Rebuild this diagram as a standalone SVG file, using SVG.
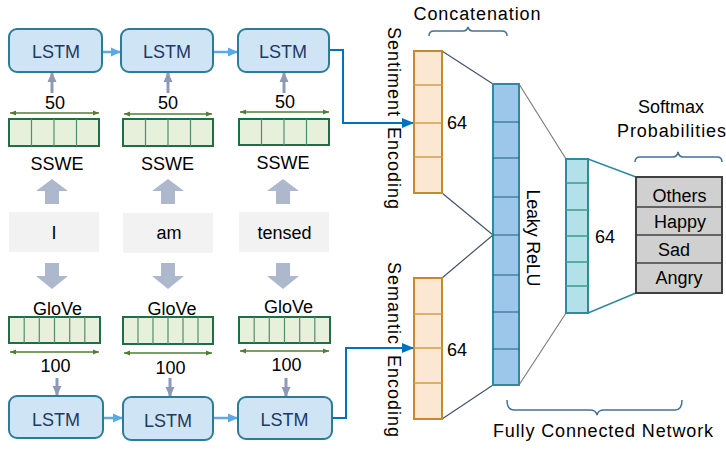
<svg xmlns="http://www.w3.org/2000/svg" width="726" height="454" viewBox="0 0 726 454">
<defs>
<marker id="ahBlueL" markerUnits="userSpaceOnUse" markerWidth="10" markerHeight="10" refX="10" refY="5" orient="auto"><path d="M0,0.5 L10,5 L0,9.5 Z" fill="#5aaae6"/></marker>
<marker id="ahBlue" markerUnits="userSpaceOnUse" markerWidth="12" markerHeight="12" refX="12" refY="6" orient="auto"><path d="M0,1 L12,6 L0,11 Z" fill="#0070c0"/></marker>
<marker id="ahGray" markerUnits="userSpaceOnUse" markerWidth="10" markerHeight="10" refX="10" refY="5" orient="auto"><path d="M0,0.5 L10,5 L0,9.5 Z" fill="#8e9ab5"/></marker>
<marker id="ahGreen" markerUnits="userSpaceOnUse" markerWidth="6" markerHeight="6" refX="6" refY="3" orient="auto-start-reverse"><path d="M0,0.5 L6,3 L0,5.5 Z" fill="#4f7f2f"/></marker>
<style>
text{font-family:"Liberation Sans",Arial,sans-serif;font-size:18px;fill:#000;text-anchor:middle}
.vt{text-anchor:start;letter-spacing:1px;word-spacing:4px}
.lstm rect{fill:#cfe5f5;stroke:#2c7c98;stroke-width:2}
.lstm text{fill:#1f3864}
.emb rect{fill:#e6f0da;stroke:#1e6e48;stroke-width:2}
.emb path{stroke:#4f8f70;stroke-width:1.2;fill:none}
.word rect{fill:#f2f2f2}
.big{fill:#aeb8cc}
.small{stroke:#8e9ab5;stroke-width:3;fill:none}
.dim{stroke:#4f7f2f;stroke-width:1.5;fill:none}
.chain{stroke:#5aaae6;stroke-width:2.5;fill:none}
.conn{stroke:#0070c0;stroke-width:2;fill:none}
.enc rect{fill:#fce8d2;stroke:#c58a2e;stroke-width:2}
.enc path{stroke:#d49a4a;stroke-width:1.5;fill:none}
.leaky rect{fill:#9dc7ea;stroke:#2f8aa0;stroke-width:2}
.leaky path{stroke:#1f5f80;stroke-width:1.2;fill:none}
.fc rect{fill:#b4e0ea;stroke:#2f8aa0;stroke-width:2}
.fc path{stroke:#3e9a8a;stroke-width:1.5;fill:none}
.soft rect{fill:#d0d0d0;stroke:#404040;stroke-width:2}
.soft path{stroke:#404040;stroke-width:1.5;fill:none}
.brace{stroke:#41719c;stroke-width:1.5;fill:none}
.fan{stroke:#44546a;stroke-width:1.2;fill:none}
.fan2{stroke:#7f7f7f;stroke-width:1.2;fill:none}
.fan3{stroke:#2f8aa0;stroke-width:1.5;fill:none}
</style>
</defs>

<!-- connectors -->
<g id="connectors">
<line class="chain" x1="102" y1="52" x2="121" y2="52" marker-end="url(#ahBlueL)"/>
<line class="chain" x1="213" y1="52" x2="238" y2="52" marker-end="url(#ahBlueL)"/>
<line class="chain" x1="103" y1="418" x2="123" y2="418" marker-end="url(#ahBlueL)"/>
<line class="chain" x1="213" y1="418" x2="238" y2="418" marker-end="url(#ahBlueL)"/>
<path class="conn" d="M329,50 H343 V123 H414" marker-end="url(#ahBlue)"/>
<path class="conn" d="M332,418 H346 V348 H414" marker-end="url(#ahBlue)"/>
<!-- small arrows -->
<line class="small" x1="52" y1="93" x2="52" y2="72" marker-end="url(#ahGray)"/>
<line class="small" x1="168" y1="93" x2="168" y2="72" marker-end="url(#ahGray)"/>
<line class="small" x1="284" y1="93" x2="284" y2="72" marker-end="url(#ahGray)"/>
<line class="small" x1="57" y1="378" x2="57" y2="396" marker-end="url(#ahGray)"/>
<line class="small" x1="170" y1="378" x2="170" y2="397" marker-end="url(#ahGray)"/>
<line class="small" x1="286" y1="378" x2="286" y2="397" marker-end="url(#ahGray)"/>
<!-- big arrows -->
<polygon class="big" points="52,179 68,191 59,191 59,204 45,204 45,191 36,191"/>
<polygon class="big" points="168,179 184,191 175,191 175,204 161,204 161,191 152,191"/>
<polygon class="big" points="283,179 299,191 290,191 290,204 276,204 276,191 267,191"/>
<polygon class="big" points="45,263 59,263 59,276 68,276 52,289 36,276 45,276"/>
<polygon class="big" points="161,263 175,263 175,276 184,276 168,289 152,276 161,276"/>
<polygon class="big" points="276,263 290,263 290,276 299,276 283,289 267,276 276,276"/>
<!-- dimension arrows -->
<line class="dim" x1="10" y1="113" x2="99" y2="113" marker-start="url(#ahGreen)" marker-end="url(#ahGreen)"/>
<line class="dim" x1="124" y1="114" x2="212" y2="114" marker-start="url(#ahGreen)" marker-end="url(#ahGreen)"/>
<line class="dim" x1="240" y1="112" x2="329" y2="112" marker-start="url(#ahGreen)" marker-end="url(#ahGreen)"/>
<line class="dim" x1="10" y1="352" x2="99" y2="352" marker-start="url(#ahGreen)" marker-end="url(#ahGreen)"/>
<line class="dim" x1="124" y1="353" x2="212" y2="353" marker-start="url(#ahGreen)" marker-end="url(#ahGreen)"/>
<line class="dim" x1="240" y1="351" x2="329" y2="351" marker-start="url(#ahGreen)" marker-end="url(#ahGreen)"/>
<!-- fan lines -->
<path class="fan" d="M442,51 L493,84 M442,193 L493,235 M442,278 L493,235 M442,419 L493,385"/>
<path class="fan2" d="M519,84 L566,159 M519,385 L566,313"/>
<path class="fan3" d="M588,159 L636,177 M588,313 L636,293"/>
<!-- braces -->
<path class="brace" d="M429,36 Q429,31 434,31 L463,31 Q467,31 468,27 Q469,31 473,31 L502,31 Q507,31 507,36"/>
<path class="brace" d="M635,162 Q635,157 640,157 L673,157 Q677,157 678,152 Q679,157 683,157 L717,157 Q722,157 722,162"/>
<path class="brace" d="M507,400 Q507,410 514,410 L590,410 Q596,410 597,415 Q598,410 604,410 L675,410 Q682,410 682,400"/>
</g>

<!-- top LSTMs -->
<g id="lstm_top_1" class="lstm"><rect x="9" y="29" width="93" height="43" rx="8"/><text x="56" y="58">LSTM</text></g>
<g id="lstm_top_2" class="lstm"><rect x="121" y="29" width="92" height="43" rx="8"/><text x="167" y="58">LSTM</text></g>
<g id="lstm_top_3" class="lstm"><rect x="238" y="29" width="91" height="43" rx="8"/><text x="283" y="58">LSTM</text></g>

<g id="label_50_1"><text x="55" y="109">50</text></g>
<g id="label_50_2"><text x="168" y="109">50</text></g>
<g id="label_50_3"><text x="285" y="108">50</text></g>

<!-- SSWE embeddings -->
<g id="sswe_1" class="emb"><rect x="9" y="119" width="90" height="27"/><path d="M31.5,119 V146 M54,119 V146 M76.5,119 V146"/><text x="57" y="170">SSWE</text></g>
<g id="sswe_2" class="emb"><rect x="123" y="119" width="90" height="27"/><path d="M145.5,119 V146 M168,119 V146 M190.5,119 V146"/><text x="167.5" y="170">SSWE</text></g>
<g id="sswe_3" class="emb"><rect x="239" y="119" width="90" height="26"/><path d="M261.5,119 V145 M284,119 V145 M306.5,119 V145"/><text x="283" y="169">SSWE</text></g>

<!-- words -->
<g id="word_1" class="word"><rect x="9" y="212" width="90" height="40"/><text x="54" y="239">I</text></g>
<g id="word_2" class="word"><rect x="123" y="213" width="90" height="40"/><text x="169" y="239">am</text></g>
<g id="word_3" class="word"><rect x="239" y="212" width="90" height="40"/><text x="284.5" y="239">tensed</text></g>

<!-- GloVe embeddings -->
<g id="glove_1" class="emb"><text x="57.5" y="315">GloVe</text><rect x="9" y="317" width="91" height="26"/><path d="M24.2,317 V343 M39.3,317 V343 M54.5,317 V343 M69.7,317 V343 M84.8,317 V343"/></g>
<g id="glove_2" class="emb"><text x="172" y="315">GloVe</text><rect x="123" y="317" width="90" height="27"/><path d="M138,317 V344 M153,317 V344 M168,317 V344 M183,317 V344 M198,317 V344"/></g>
<g id="glove_3" class="emb"><text x="288.5" y="313">GloVe</text><rect x="239" y="317" width="91" height="26"/><path d="M254.2,317 V343 M269.3,317 V343 M284.5,317 V343 M299.7,317 V343 M314.8,317 V343"/></g>

<g id="label_100_1"><text x="55.5" y="372">100</text></g>
<g id="label_100_2"><text x="170.5" y="374">100</text></g>
<g id="label_100_3"><text x="286.5" y="371">100</text></g>

<!-- bottom LSTMs -->
<g id="lstm_bot_1" class="lstm"><rect x="9" y="396" width="94" height="42" rx="8"/><text x="56" y="426">LSTM</text></g>
<g id="lstm_bot_2" class="lstm"><rect x="123" y="397" width="90" height="43" rx="8"/><text x="168" y="427">LSTM</text></g>
<g id="lstm_bot_3" class="lstm"><rect x="238" y="397" width="94" height="42" rx="8"/><text x="284.5" y="426">LSTM</text></g>

<!-- encodings -->
<g id="sentiment_encoding" class="enc">
<rect x="414" y="51" width="28" height="142"/>
<path d="M414,85 H442 M414,123 H442 M414,157 H442"/>
<text x="457" y="129">64</text>
<text class="vt" transform="translate(388,27) rotate(90)">Sentiment Encoding</text>
</g>
<g id="semantic_encoding" class="enc">
<rect x="414" y="278" width="28" height="141"/>
<path d="M414,314 H442 M414,348 H442 M414,383 H442"/>
<text x="457" y="356">64</text>
<text class="vt" transform="translate(388,262) rotate(90)">Semantic Encoding</text>
</g>
<g id="concatenation"><text x="477" y="20" textLength="127" lengthAdjust="spacing">Concatenation</text></g>

<!-- leaky relu -->
<g id="leaky_relu" class="leaky">
<rect x="493" y="84" width="26" height="301"/>
<path d="M493,122 H519 M493,158 H519 M493,197 H519 M493,235 H519 M493,275 H519 M493,312 H519 M493,349 H519"/>
<text transform="translate(527,238) rotate(90)" textLength="97" lengthAdjust="spacing">Leaky ReLU</text>
</g>

<!-- fc 64 -->
<g id="fc_64" class="fc">
<rect x="566" y="159" width="22" height="154"/>
<path d="M566,183 H588 M566,210 H588 M566,236 H588 M566,262 H588 M566,286 H588"/>
<text x="605" y="243">64</text>
</g>

<!-- softmax -->
<g id="softmax" class="soft">
<rect x="636" y="177" width="86" height="116"/>
<path d="M636,207 H722 M636,235 H722 M636,263 H722"/>
<text x="679.5" y="202">Others</text>
<text x="680" y="228">Happy</text>
<text x="674" y="256">Sad</text>
<text x="679" y="284">Angry</text>
</g>
<g id="softmax_label"><text x="671" y="113">Softmax</text><text x="671.5" y="137" textLength="109" lengthAdjust="spacing">Probabilities</text></g>
<g id="fcn_label"><text x="603" y="437" textLength="220" lengthAdjust="spacing">Fully Connected Network</text></g>
</svg>
